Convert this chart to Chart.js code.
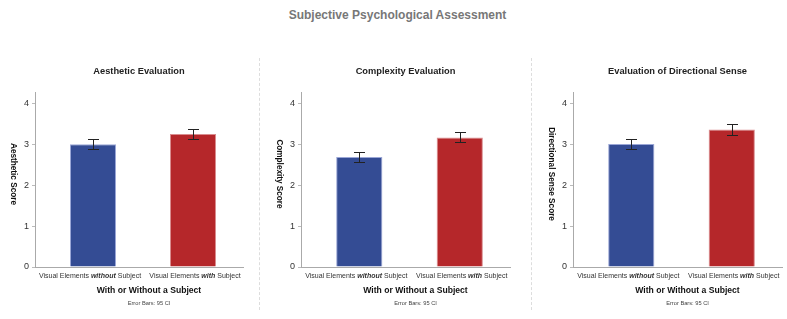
<!DOCTYPE html>
<html>
<head>
<meta charset="utf-8">
<script src="https://cdn.jsdelivr.net/npm/chart.js@4.4.0/dist/chart.umd.min.js"></script>
<style>
  body { margin: 0; background: #fff; }
  #wrap { position: relative; width: 787px; height: 319px; overflow: hidden; }
  #title { position: absolute; left: 0; top: 8px; width: 795px; text-align: center;
           font: bold 12px 'Liberation Sans Narrow', 'Arial Narrow', 'Liberation Sans', sans-serif; color: #777; }
  canvas { position: absolute; top: 0; }
  .sep { position: absolute; top: 58px; height: 252px; border-left: 1px dashed #ddd; }
</style>
</head>
<body>
<div id="wrap">
  <div id="title">Subjective Psychological Assessment</div>
  <div class="sep" style="left:259px"></div>
  <div class="sep" style="left:531px"></div>
  <canvas id="c0" width="262" height="319" style="left:0px"></canvas>
  <canvas id="c1" width="262" height="319" style="left:262px"></canvas>
  <canvas id="c2" width="263" height="319" style="left:524px"></canvas>
</div>
<script>
// the two conditions, with the word that is set in bold italic
var conditions = ["Visual Elements without Subject", "Visual Elements with Subject"];
var emphasis = ["without", "with"];

var panelTitles = ["Aesthetic Evaluation", "Complexity Evaluation", "Evaluation of Directional Sense"];
var yTitles = ["Aesthetic Score", "Complexity Score", "Directional Sense Score"];
var xTitle = "With or Without a Subject";
var footNote = "Error Bars: 95 CI";

// means and 95% CI
var meanScores = [[3.00, 3.25], [2.69, 3.17], [3.01, 3.36]];
var ciLower = [[2.88, 3.13], [2.56, 3.05], [2.89, 3.24]];
var ciUpper = [[3.12, 3.37], [2.81, 3.29], [3.13, 3.49]];

var barColors = ["#344c94", "#b5272a"];
var barEdges = ["#9aa6d6", "#d98c8e"];

var NARROW = "'Liberation Sans Narrow', 'Arial Narrow', 'Liberation Sans', sans-serif";

// canvas size and plot box of each panel
var panels = [
  { id: "c0", width: 262, plotLeft: 35, plotRight: 243 },
  { id: "c1", width: 262, plotLeft: 39, plotRight: 248 },
  { id: "c2", width: 263, plotLeft: 49, plotRight: 258 }
];
var plotTop = 92, plotBottom = 267, H = 319;

var decorPlugin = {
  id: "decor",
  afterDatasetsDraw: function (chart) {
    var p = chart.options.plugins.decor;
    var ctx = chart.ctx, x = chart.scales.x, y = chart.scales.y, area = chart.chartArea;
    var mid = (area.left + area.right) / 2;

    // error bars
    ctx.save();
    ctx.strokeStyle = "#222";
    ctx.lineWidth = 1;
    p.lower.forEach(function (lo, i) {
      var cx = Math.round(x.getPixelForValue(i)) + 0.5;
      var y0 = Math.round(y.getPixelForValue(lo)) + 0.5;
      var y1 = Math.round(y.getPixelForValue(p.upper[i])) + 0.5;
      ctx.beginPath();
      ctx.moveTo(cx, y0); ctx.lineTo(cx, y1);
      ctx.moveTo(cx - 5.5, y0); ctx.lineTo(cx + 5.5, y0);
      ctx.moveTo(cx - 5.5, y1); ctx.lineTo(cx + 5.5, y1);
      ctx.stroke();
    });

    // panel title
    ctx.fillStyle = "#222";
    ctx.textAlign = "center";
    ctx.textBaseline = "middle";
    ctx.font = "bold 9.3px " + NARROW;
    ctx.fillText(p.title, mid, 71);

    // x category labels, one word bold italic
    var regular = "7px " + NARROW, strong = "italic bold 7px " + NARROW;
    ctx.textAlign = "left";
    conditions.forEach(function (label, i) {
      var k = label.indexOf(" " + emphasis[i] + " ") + 1;
      var parts = [[label.slice(0, k), regular], [emphasis[i], strong], [label.slice(k + emphasis[i].length), regular]];
      var total = 0;
      parts.forEach(function (pt) { ctx.font = pt[1]; total += ctx.measureText(pt[0]).width; });
      var tx = x.getPixelForValue(i) + (i === 0 ? -3 : 2) - total / 2;
      parts.forEach(function (pt) {
        ctx.font = pt[1];
        ctx.fillStyle = "#333";
        ctx.fillText(pt[0], tx, 276);
        tx += ctx.measureText(pt[0]).width;
      });
    });

    // x axis title and note
    ctx.textAlign = "center";
    ctx.fillStyle = "#111";
    ctx.font = "bold 8.6px " + NARROW;
    ctx.fillText(xTitle, mid + 10, 291);
    ctx.fillStyle = "#444";
    ctx.font = "5.7px " + NARROW;
    ctx.fillText(footNote, mid + 10, 303);

    // y axis title, reading downwards
    ctx.translate(area.left - 22, 174);
    ctx.rotate(Math.PI / 2);
    ctx.fillStyle = "#111";
    ctx.font = "bold 8.2px " + NARROW;
    ctx.fillText(p.yTitle, 0, 0);
    ctx.restore();
  }
};

panels.forEach(function (pn, k) {
  new Chart(document.getElementById(pn.id), {
    type: "bar",
    data: {
      datasets: [{
        data: meanScores[k].map(function (v, i) { return { x: i, y: v }; }),
        backgroundColor: barColors,
        borderColor: barEdges,
        borderWidth: 1,
        barPercentage: 0.46,
        categoryPercentage: 1
      }]
    },
    options: {
      responsive: false,
      animation: false,
      layout: { padding: { top: plotTop, right: pn.width - pn.plotRight, left: 0, bottom: 0 } },
      plugins: {
        legend: { display: false },
        tooltip: { enabled: false },
        decor: { title: panelTitles[k], yTitle: yTitles[k], lower: ciLower[k], upper: ciUpper[k] }
      },
      scales: {
        x: {
          type: "linear",
          offset: false,
          min: -0.58,
          max: 1.5,
          ticks: { display: false, stepSize: 1, includeBounds: false },
          grid: { display: false },
          border: { color: "#aaa" },
          afterFit: function (s) { s.height = H - plotBottom; }
        },
        y: {
          min: 0,
          max: 4.28,
          ticks: { stepSize: 1, includeBounds: false, color: "#333", padding: 3,
                   font: { size: 9, family: "'Liberation Sans', sans-serif" } },
          grid: { drawOnChartArea: false, tickLength: 3, color: "#bbb" },
          border: { color: "#aaa" },
          afterFit: function (s) { s.width = pn.plotLeft; }
        }
      }
    },
    plugins: [decorPlugin]
  });
});
</script>
</body>
</html>
